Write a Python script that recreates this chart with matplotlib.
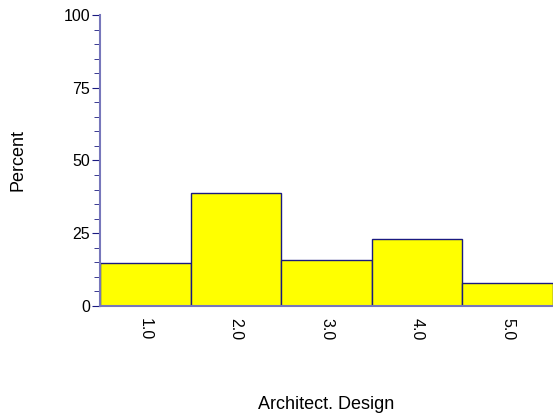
import numpy as np
import matplotlib
matplotlib.use("Agg")
import matplotlib.pyplot as plt

plt.rcParams['font.family'] = ['Liberation Sans', 'DejaVu Sans']

categories = [1.0, 2.0, 3.0, 4.0, 5.0]
percent = [14.7, 38.9, 15.8, 22.9, 7.8]
tick_labels = ["1.0", "2.0", "3.0", "4.0", "5.0"]

fig = plt.figure(figsize=(5.53, 4.19), dpi=100)
ax = fig.add_axes([0.181, 0.270, 0.819, 0.694])

ax.bar(categories, percent, width=1.0, color="#ffff00", edgecolor="#1a1a80", linewidth=1.0)

ax.set_xlim(0.5, 5.5)
ax.set_ylim(0, 100)
ax.set_yticks([0, 25, 50, 75, 100])
ax.set_yticks(np.arange(0, 101, 5), minor=True)
ax.set_xticks(categories)
ax.set_xticklabels(tick_labels, rotation=-90, fontsize=11.5)
ax.tick_params(axis='x', length=0, pad=9)
ax.tick_params(axis='y', which='major', length=6, color="#1a1a80", labelsize=11.5, pad=1)
ax.tick_params(axis='y', which='minor', length=4, color="#1a1a80")

for s in ['top', 'right']:
    ax.spines[s].set_visible(False)
for s in ['left', 'bottom']:
    ax.spines[s].set_color("#7777bb")
    ax.spines[s].set_linewidth(1.5)

# label positions in axes fraction (from pixel positions)
ax.set_ylabel("Percent", fontsize=13, va='center')
ax.yaxis.set_label_coords((18 - 100) / (553 * 0.819), 0.5)
ax.set_xlabel("Architect. Design", fontsize=13, va='center')
ax.xaxis.set_label_coords(0.5, (306 - 405) / (419 * 0.694))

fig.savefig("out.png", dpi=100)
